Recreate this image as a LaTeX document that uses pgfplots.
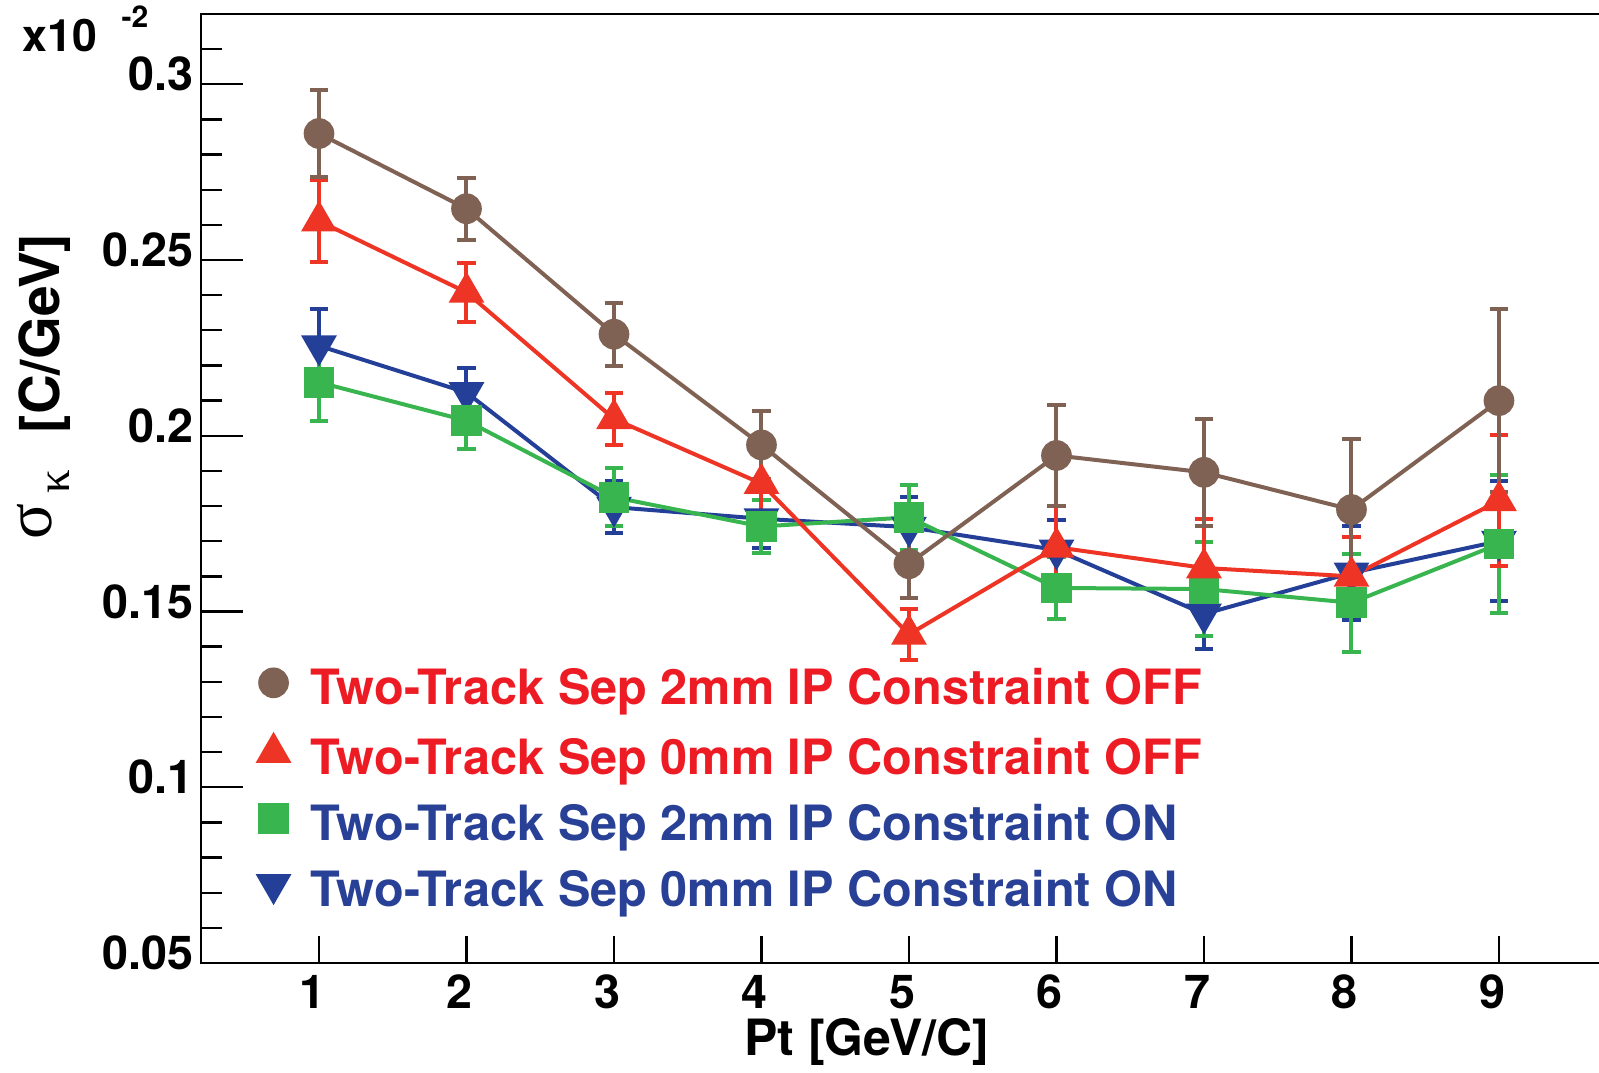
\documentclass[border=0pt]{standalone}
\usepackage{fontspec}
\setmainfont{TeX Gyre Heros}
\newfontfamily\greekfont{Liberation Serif}
\usepackage{pgfplots}
\usepackage{pgfplotstable}
\pgfplotsset{compat=1.18}

\definecolor{cbrown}{RGB}{128,98,85}
\definecolor{cred}{RGB}{238,52,36}
\definecolor{cgreen}{RGB}{57,181,80}
\definecolor{cblue}{RGB}{36,63,152}
\definecolor{tred}{RGB}{237,28,36}
\definecolor{tblue}{RGB}{40,64,150}

% sigma values in units of 1e-2 C/GeV
\pgfplotstableread{
x y e
1 0.2860 0.0124
2 0.2646 0.0088
3 0.2289 0.0090
4 0.1974 0.0097
5 0.1636 0.0098
6 0.1944 0.0144
7 0.1896 0.0152
8 0.1790 0.0200
9 0.2100 0.0260
}\sepTwoOff
\pgfplotstableread{
x y e
1 0.2611 0.0116
2 0.2408 0.0083
3 0.2048 0.0073
4 0.1864 0.0085
5 0.1435 0.0073
6 0.1683 0.0117
7 0.1624 0.0138
8 0.1600 0.0113
9 0.1815 0.0186
}\sepZeroOff
\pgfplotstableread{
x y e
1 0.2152 0.0110
2 0.2043 0.0080
3 0.1825 0.0083
4 0.1742 0.0076
5 0.1768 0.0092
6 0.1567 0.0088
7 0.1564 0.0135
8 0.1525 0.0140
9 0.1692 0.0195
}\sepTwoOn
\pgfplotstableread{
x y e
1 0.2256 0.0104
2 0.2123 0.0071
3 0.1797 0.0075
4 0.1764 0.0084
5 0.1740 0.0085
6 0.1675 0.0085
7 0.1493 0.0100
8 0.1610 0.0133
9 0.1700 0.0170
}\sepZeroOn

\begin{document}
\begin{tikzpicture}
\begin{axis}[
    width=424.8pt, height=284.7pt, scale only axis,
    xmin=0.2, xmax=9.8, ymin=0.05, ymax=0.32,
    axis line style={line width=0.7pt},
    every tick/.style={line width=0.7pt, black},
    tick align=inside, xtick pos=left, ytick pos=left,
    major tick length=12.6pt, minor tick length=4.2pt,
    xtick=\empty,
    minor xtick={0.4,0.6,...,9.7},
    extra x ticks={1,2,3,4,5,6,7,8,9},
    extra x tick style={major tick length=8.1pt},
    ytick={0.05,0.1,0.15,0.2,0.25,0.3},
    yticklabels={0.05,0.1,0.15,0.2,0.25,0.3},
    extra y ticks={0.06,0.07,0.08,0.09,0.11,0.12,0.13,0.14,0.16,0.17,0.18,0.19,0.21,0.22,0.23,0.24,0.26,0.27,0.28,0.29,0.31},
    extra y tick labels={},
    extra y tick style={major tick length=6.3pt},
    /pgf/number format/assume math mode=true,
    tick label style={font=\fontsize{14}{16}\selectfont\bfseries},
    xticklabel style={anchor=base, yshift=-13.5pt, xshift=-2pt},
    yticklabel style={anchor=east, inner sep=0pt, xshift=-2pt, yshift=3pt},
    xlabel={Pt [GeV/C]},
    every axis x label/.style={at={(axis description cs:0.4703,0)}, anchor=base, yshift=-27.6pt, font=\fontsize{15}{16}\selectfont\bfseries},
    ylabel={\raisebox{2.4pt}{\greekfont\mdseries\fontsize{20}{20}\selectfont σ}\hspace{3pt}\raisebox{-3pt}{\greekfont\mdseries\fontsize{14}{14}\selectfont κ}\hspace{11pt}[C/GeV]},
    every axis y label/.style={at={(axis description cs:-0.0996,0.769)}, anchor=base east, inner sep=0pt, rotate=90, font=\fontsize{16.5}{17}\selectfont\bfseries},
    every axis plot/.append style={line width=1.2pt},
    error bars/error bar style={line width=1.2pt},
    error bars/error mark options={rotate=90, mark size=2.75pt, line width=1.2pt},
    reverse legend,
    legend cell align=left,
    legend style={at={(rel axis cs:0.039,0.310)}, anchor=north west, draw=none, fill=none,
        inner sep=0pt, row sep=6.4pt, column sep=6.2pt,
        font=\fontsize{14.6}{16}\selectfont\bfseries,
        nodes={inner sep=0pt, text height=10.3pt, text depth=3pt, anchor=base west}},
    legend image code/.code={\path[draw=none, fill=none] (-5pt,0pt) rectangle (5pt,10pt);
        \draw[#1, only marks] plot coordinates {(0pt,6.5pt)};},
]
\addplot[color=cblue, mark=triangle*, mark options={rotate=180, mark size=5pt},
    error bars/.cd, y dir=both, y explicit]
    table[x=x, y=y, y error=e] {\sepZeroOn};
\addlegendentry{\textcolor{tblue}{Two-Track Sep 0mm IP Constraint ON}}
\addplot[color=cgreen, mark=square*, mark options={mark size=4pt},
    error bars/.cd, y dir=both, y explicit]
    table[x=x, y=y, y error=e] {\sepTwoOn};
\addlegendentry{\textcolor{tblue}{Two-Track Sep 2mm IP Constraint ON}}
\addplot[color=cred, mark=triangle*, mark options={mark size=5pt},
    error bars/.cd, y dir=both, y explicit]
    table[x=x, y=y, y error=e] {\sepZeroOff};
\addlegendentry{\textcolor{tred}{Two-Track Sep 0mm IP Constraint OFF}}
\addplot[color=cbrown, mark=*, mark options={mark size=4pt},
    error bars/.cd, y dir=both, y explicit]
    table[x=x, y=y, y error=e] {\sepTwoOff};
\addlegendentry{\textcolor{tred}{Two-Track Sep 2mm IP Constraint OFF}}
\end{axis}
\node[anchor=base west, inner sep=0pt, font=\fontsize{13.4}{14}\selectfont\bfseries]
    at ([shift={(-53.7pt,273.3pt)}]current axis.south west) {x10};
\node[anchor=base west, inner sep=0pt, font=\fontsize{9}{9}\selectfont\bfseries]
    at ([shift={(-24pt,280.5pt)}]current axis.south west) {-2};
\pgfresetboundingbox
\path[use as bounding box] ([shift={(-60.3pt,-32.7pt)}]current axis.south west) rectangle ++(479.7pt,321.6pt);
\end{tikzpicture}
\end{document}
